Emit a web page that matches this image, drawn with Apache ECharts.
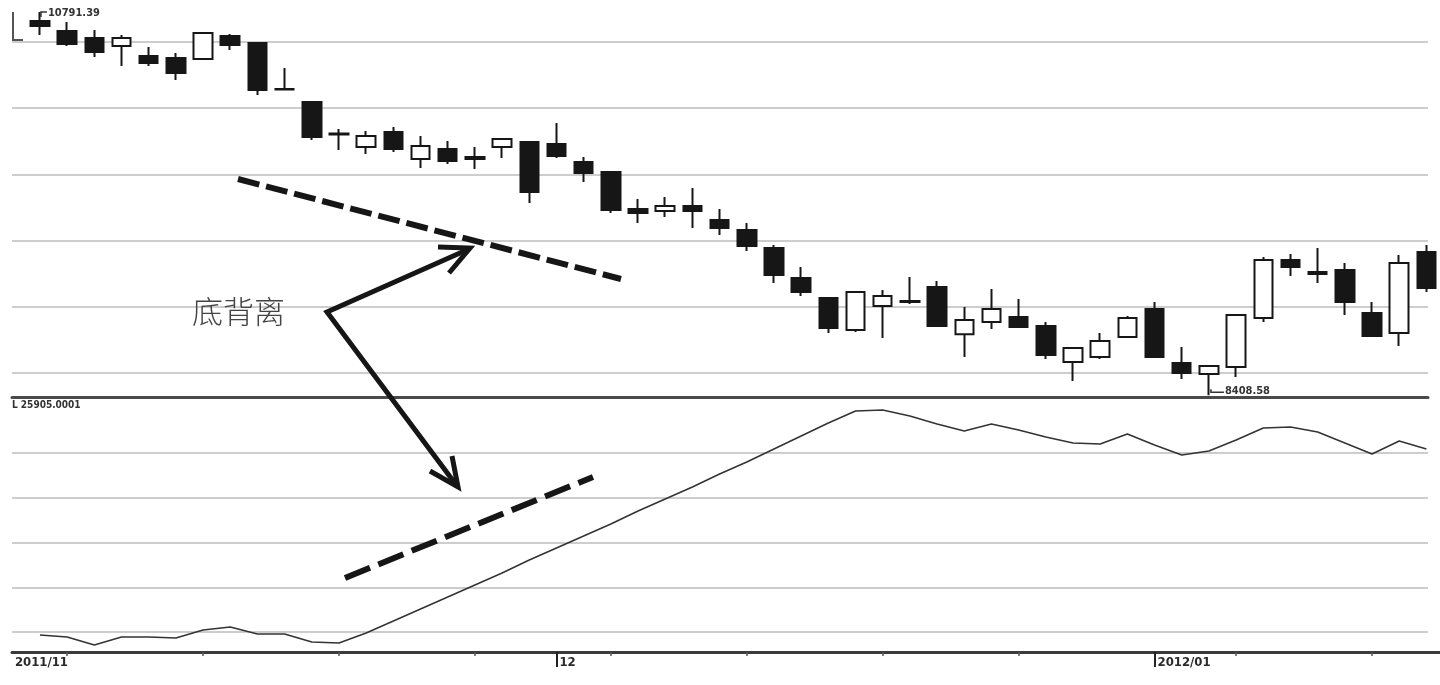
<!DOCTYPE html>
<html><head><meta charset="utf-8">
<script src="https://cdn.jsdelivr.net/npm/echarts@6/dist/echarts.min.js"></script>
<style>html,body{margin:0;padding:0;background:#fff;overflow:hidden}#c{width:1440px;height:685px}</style>
</head><body><div id="c"></div>
<script>
// ---------- data ----------
const dates = [
 '2011-11-04','2011-11-07','2011-11-08','2011-11-09','2011-11-10','2011-11-11',
 '2011-11-14','2011-11-15','2011-11-16','2011-11-17','2011-11-18',
 '2011-11-21','2011-11-22','2011-11-23','2011-11-24','2011-11-25',
 '2011-11-28','2011-11-29','2011-11-30','2011-12-01','2011-12-02',
 '2011-12-05','2011-12-06','2011-12-07','2011-12-08','2011-12-09',
 '2011-12-12','2011-12-13','2011-12-14','2011-12-15','2011-12-16',
 '2011-12-19','2011-12-20','2011-12-21','2011-12-22','2011-12-23',
 '2011-12-26','2011-12-27','2011-12-28','2011-12-29','2011-12-30',
 '2012-01-04','2012-01-05','2012-01-06',
 '2012-01-09','2012-01-10','2012-01-11','2012-01-12','2012-01-13',
 '2012-01-16','2012-01-17','2012-01-18'];
const opens = [10735,10673,10630,10580,10518,10505,10499,10642,10599,10312,
 10232,10036,9952,10045,9877,9939,9890,9952,9983,9970,
 9858,9796,9566,9554,9585,9498,9435,9323,9137,9012,
 8813,8963,8988,9081,8788,8863,8894,8838,8614,8645,
 8770,8944,8608,8540,8583,8888,9249,9174,9187,8919,
 8795,9299];
const closes = [10704,10592,10543,10630,10474,10412,10661,10586,10306,10309,
 10014,10029,10020,9939,9958,9865,9877,10001,9672,9896,
 9790,9560,9541,9585,9554,9448,9336,9155,9050,8826,
 9050,9025,8994,8838,8876,8944,8832,8658,8701,8745,
 8888,8645,8546,8590,8907,9249,9205,9162,8988,8776,
 9230,9075];
const lows = [10648,10580,10511,10455,10455,10368,10493,10555,10275,10306,
 9995,9933,9908,9921,9821,9846,9815,9883,9603,9883,
 9734,9541,9479,9516,9448,9404,9305,9106,9025,8795,
 8801,8764,8975,8832,8645,8820,8826,8633,8496,8633,
 8764,8639,8509,8408.58,8521,8863,9149,9106,8907,8770,
 8714,9050];
const highs = [10791.39,10729,10679,10648,10574,10536,10665,10654,10603,10443,
 10238,10064,10051,10076,10020,9989,9952,10004,9986,10101,
 9890,9799,9628,9641,9697,9566,9479,9342,9205,9015,
 9053,9062,9143,9118,8956,9068,9006,8863,8708,8795,
 8900,8988,8708,8596,8913,9267,9286,9323,9230,8988,
 9280,9342];
const obv = [1700,1500,700,1500,1500,1400,2200,2500,1800,1800,
 1000,900,1900,3100,4300,5500,6700,7900,9200,10400,
 11600,12800,14100,15300,16500,17800,19000,20300,21600,22900,
 24100,24200,23600,22800,22100,22800,22200,21500,20900,20800,
 21800,20700,19700,20100,21200,22400,22500,22000,20900,19800,
 21100,20300];
const monthTickIdx = [0, 19, 41];
const monthTickText = ['2011/11', '12', '2012/01'];
const weekTickIdx = [1, 6, 11, 16, 21, 26, 31, 36, 44, 49];
const indicatorLabel = 'L 25905.0001';
const annotationText = '底背离';

// ---------- chart ----------
const NUMFONT = "'DejaVu Sans Condensed','Liberation Sans Narrow','DejaVu Sans',sans-serif";
const INK = '#161616';
const chart = echarts.init(document.getElementById('c'), null, {renderer: 'canvas'});

const catData = dates.map((d, i) => i === 0 ? {value: d, textStyle: {align: 'center'}} : d);
const candleData = dates.map((d, i) => [opens[i], closes[i], lows[i], highs[i]]);

const hiddenVal = (gi) => ({type: 'value', gridIndex: gi, min: 0, max: 1, show: false});
const gridY = (gi, max) => ({
  type: 'value', gridIndex: gi, min: 0, max: max, interval: 1,
  axisLine: {show: false}, axisTick: {show: false}, axisLabel: {show: false},
  splitLine: {show: true, lineStyle: {color: '#cdcdcd', width: 2}}
});

const option = {
  animation: false,
  backgroundColor: '#ffffff',
  grid: [
    {left: 26.35, right: -6.35, top: 0, height: 397},     // 0 candles
    {left: 26.35, right: -6.35, top: 397, height: 255},   // 1 indicator line
    {left: 12, right: 12, top: 42, height: 331},          // 2 upper grid lines
    {left: 12, right: 12, top: 453, height: 179},         // 3 lower grid lines
    {left: 12, right: 12, top: 397, height: 255},         // 4 separator
    {left: 12, right: 0, top: 397, height: 255}           // 5 bottom axis line
  ],
  xAxis: [
    {type: 'category', gridIndex: 0, data: dates, boundaryGap: true, show: false},
    {type: 'category', gridIndex: 1, data: catData, boundaryGap: true, position: 'bottom',
      axisLine: {show: false, onZero: false},
      axisTick: {show: true, alignWithLabel: true, length: 15,
        interval: (i) => i !== 0 && monthTickIdx.indexOf(i) >= 0,
        lineStyle: {color: '#222', width: 2}},
      axisLabel: {show: true, interval: (i) => monthTickIdx.indexOf(i) >= 0,
        formatter: (v, i) => { const k = monthTickIdx.indexOf(i); return k >= 0 ? monthTickText[k] : ''; },
        align: 'left', margin: 4, padding: [0, 0, 0, 3],
        fontFamily: NUMFONT, fontSize: 13, fontWeight: 'bold', color: '#2a2a2a'},
      splitLine: {show: false}},
    {type: 'category', gridIndex: 1, data: dates, boundaryGap: true, position: 'bottom',
      axisLine: {show: false, onZero: false},
      axisTick: {show: true, alignWithLabel: true, length: 4,
        interval: (i) => weekTickIdx.indexOf(i) >= 0,
        lineStyle: {color: '#555', width: 1.5}},
      axisLabel: {show: false}, splitLine: {show: false}},
    hiddenVal(2), hiddenVal(3),
    {type: 'value', gridIndex: 4, min: 0, max: 1, position: 'top',
      axisLine: {show: true, onZero: false, lineStyle: {color: '#4a4a4a', width: 3}},
      axisTick: {show: false}, axisLabel: {show: false}, splitLine: {show: false}},
    {type: 'value', gridIndex: 5, min: 0, max: 1, position: 'bottom',
      axisLine: {show: true, onZero: false, lineStyle: {color: '#3a3a3a', width: 3}},
      axisTick: {show: false}, axisLabel: {show: false}, splitLine: {show: false}}
  ],
  yAxis: [
    {type: 'value', gridIndex: 0, min: 8397, max: 10866, show: false},
    {type: 'value', gridIndex: 1, min: 0, max: 25500, show: false},
    gridY(2, 5), gridY(3, 4),
    {type: 'value', gridIndex: 4, min: 0, max: 1, show: false},
    {type: 'value', gridIndex: 5, min: 0, max: 1, show: false}
  ],
  series: [
    {type: 'candlestick', xAxisIndex: 0, yAxisIndex: 0, data: candleData,
      barWidth: 19, z: 5,
      itemStyle: {color: '#ffffff', color0: INK, borderColor: INK, borderColor0: INK,
        borderColorDoji: INK, borderWidth: 2}},
    {type: 'line', xAxisIndex: 1, yAxisIndex: 1, data: obv, symbol: 'none', z: 5,
      lineStyle: {color: '#333', width: 1.5}}
  ]
};
chart.setOption(option);

// ---------- annotations ----------
const hiIdx = highs.indexOf(Math.max(...highs));
const loIdx = lows.indexOf(Math.min(...lows));
const hp = chart.convertToPixel({gridIndex: 0}, [hiIdx, highs[hiIdx]]);
const lp = chart.convertToPixel({gridIndex: 0}, [loIdx, lows[loIdx]]);

const dash = (pts, dashArr) => ({type: 'polyline', z: 20, shape: {points: pts},
  style: {stroke: INK, lineWidth: 6, lineDash: dashArr, fill: null}});
const arrow = (pts, w) => ({type: 'polyline', z: 20, shape: {points: pts},
  style: {stroke: INK, lineWidth: w, lineJoin: 'miter', fill: null}});

chart.setOption({graphic: [
  dash([[238, 179], [621, 279]], [22, 7]),
  dash([[345, 578], [593, 477]], [27, 9]),
  arrow([[469, 249], [327, 312], [457, 486]], 5),
  arrow([[438, 247], [470, 248], [449, 273]], 5),
  arrow([[430, 471], [458, 487], [452, 456]], 5),
  {type: 'text', z: 20, left: 192, top: 296,
    style: {text: annotationText, fontSize: 31, fontFamily: "'Noto Sans CJK SC',sans-serif",
      fontWeight: 300, fill: '#444'}},
  {type: 'polyline', z: 20, shape: {points: [[13, 12], [13, 40], [23, 40]]},
    style: {stroke: '#555', lineWidth: 2, fill: null}},
  {type: 'text', z: 20, left: 12, top: 400,
    style: {text: indicatorLabel, fontSize: 10, fontFamily: NUMFONT, fontWeight: 'bold', fill: '#333'}},
  {type: 'polyline', z: 20, shape: {points: [[hp[0] + 1, hp[1] + 5], [hp[0] + 1, hp[1]], [hp[0] + 7, hp[1]]]},
    style: {stroke: '#333', lineWidth: 1.5, fill: null}},
  {type: 'text', z: 20, x: hp[0] + 8, y: hp[1] + 1,
    style: {text: highs[hiIdx].toFixed(2), fontSize: 11, fontFamily: NUMFONT, fontWeight: 'bold', fill: '#333',
      verticalAlign: 'middle', align: 'left'}},
  {type: 'polyline', z: 20, shape: {points: [[lp[0] + 2, lp[1] - 6], [lp[0] + 2, lp[1] - 3], [lp[0] + 15, lp[1] - 3]]},
    style: {stroke: '#333', lineWidth: 1.5, fill: null}},
  {type: 'text', z: 20, x: lp[0] + 16, y: lp[1] - 4,
    style: {text: lows[loIdx].toFixed(2), fontSize: 11, fontFamily: NUMFONT, fontWeight: 'bold', fill: '#333',
      verticalAlign: 'middle', align: 'left'}}
]});
</script>
</body></html>
